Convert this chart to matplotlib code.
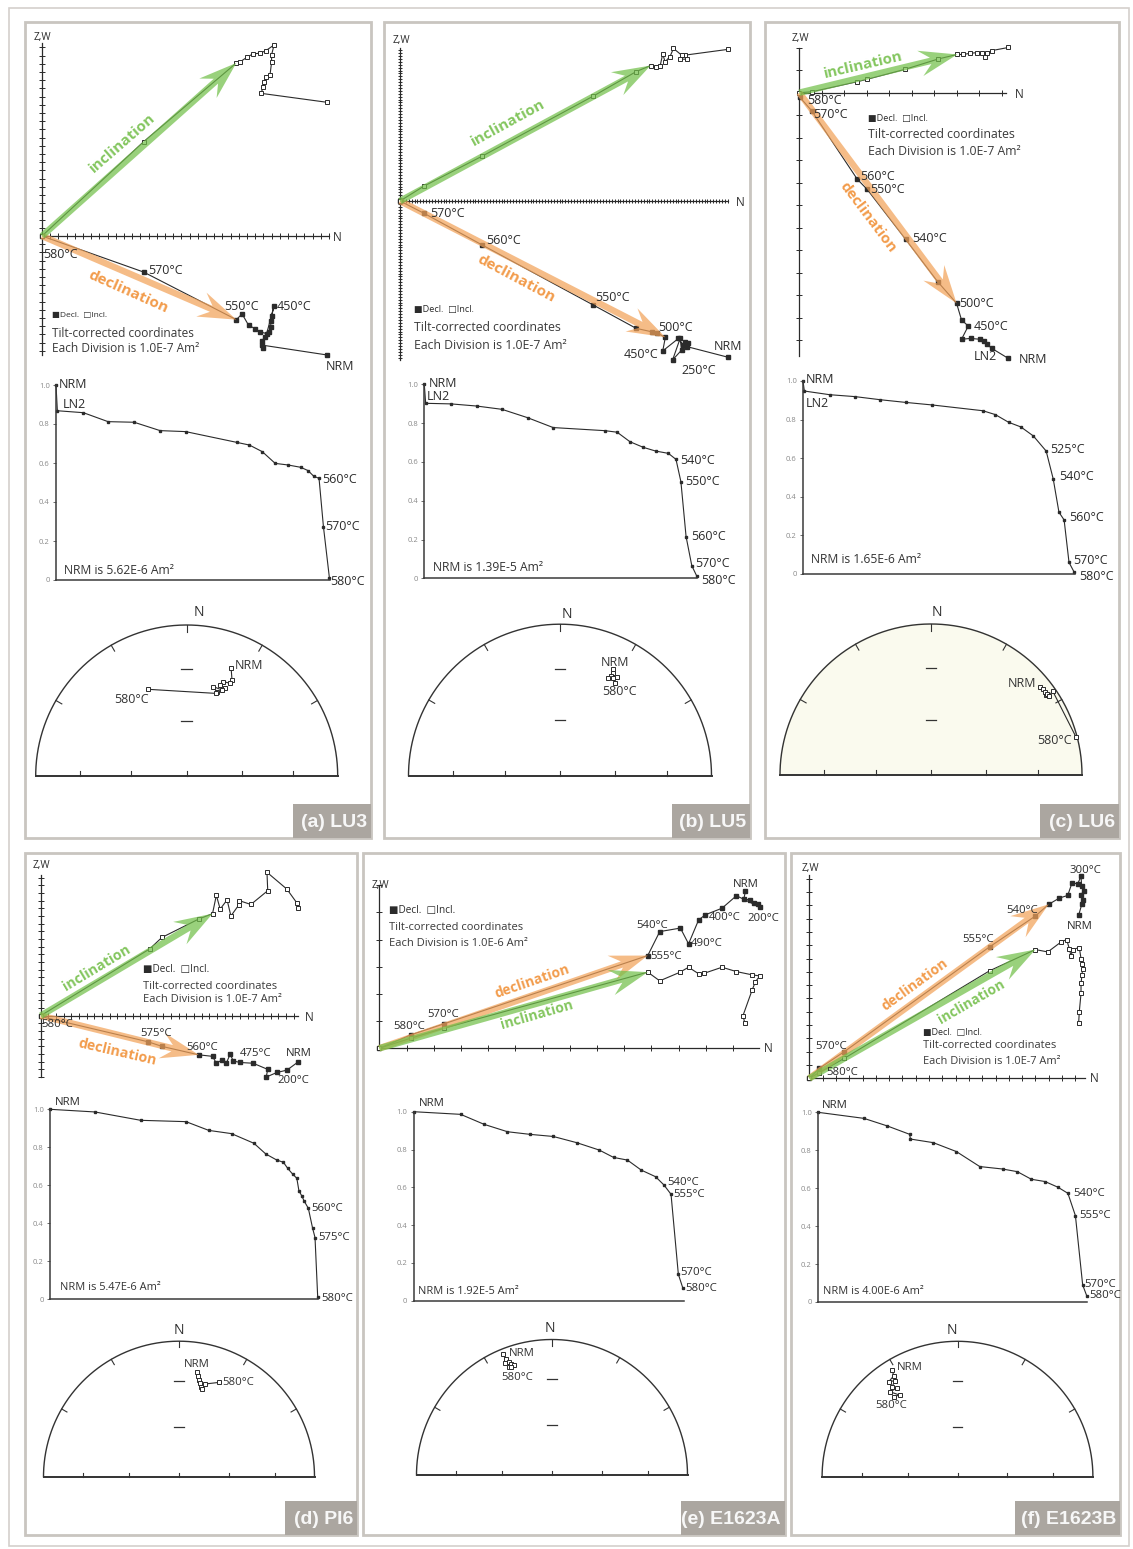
import numpy as np
import matplotlib
matplotlib.use("Agg")
import matplotlib.pyplot as plt
from matplotlib.patches import Polygon, Rectangle

plt.rcParams["font.family"] = ["Open Sans", "DejaVu Sans"]

# ---------------- data (Zijderveld values in axis divisions) ----------------
# (a) LU3
a_decl_n = [34.7, 26.8, 26.9, 26.8, 27.2, 27.7, 27.9, 27.9, 28.0, 28.3, 27.4, 26.6, 26.0, 25.2, 24.4, 23.7, 12.4, 0.0]
a_decl_up = [-14.5, -13.3, -13.7, -12.8, -12.3, -11.7, -11.1, -10.4, -9.8, -8.5, -11.9, -11.7, -11.3, -10.9, -9.5, -10.2, -4.4, 0.0]
a_incl_n = [34.8, 26.7, 27.0, 27.1, 27.3, 27.8, 28.0, 28.0, 28.3, 27.3, 26.6, 25.7, 25.0, 24.1, 23.7, 12.4, 0.0]
a_incl_up = [16.3, 17.4, 18.2, 18.8, 19.4, 19.6, 21.2, 22.1, 23.3, 22.6, 22.3, 22.2, 21.8, 21.2, 21.1, 11.5, 0.0]
a_step = [0.0, 0.005, 0.10, 0.19, 0.285, 0.38, 0.473, 0.659, 0.706, 0.753, 0.80, 0.846, 0.893, 0.92, 0.94, 0.96, 0.976, 0.998]
a_mag = [1.0, 0.868, 0.858, 0.812, 0.809, 0.766, 0.761, 0.706, 0.692, 0.658, 0.598, 0.590, 0.578, 0.561, 0.533, 0.521, 0.274, 0.009]
a_net_e = [0.294, 0.300, 0.287, 0.243, 0.221, 0.254, 0.232, 0.177, 0.199, 0.194, -0.254]
a_net_n = [0.717, 0.636, 0.614, 0.625, 0.603, 0.581, 0.570, 0.592, 0.558, 0.547, 0.574]

# (b) LU5
b_decl_n = [113.2, 98.9, 98.3, 97.1, 96.6, 94.0, 99.4, 97.7, 96.0, 90.6, 91.5, 88.7, 86.8, 81.4, 66.7, 28.4, 8.4, 0.0]
b_decl_up = [-53.9, -50.2, -48.5, -51.4, -47.4, -54.8, -48.9, -49.7, -47.4, -51.7, -47.0, -45.6, -45.1, -43.9, -35.9, -15.2, -4.3, 0.0]
b_incl_n = [113.2, 98.3, 98.9, 96.6, 97.1, 94.3, 93.1, 91.4, 90.6, 89.7, 88.3, 86.4, 81.4, 66.7, 28.4, 8.4, 0.0]
b_incl_up = [52.3, 50.3, 48.9, 48.9, 50.3, 52.6, 49.8, 48.0, 50.7, 46.6, 46.3, 46.7, 44.6, 36.2, 15.5, 5.2, 0.0]
b_step = [0.0, 0.005, 0.098, 0.192, 0.285, 0.379, 0.473, 0.663, 0.708, 0.755, 0.804, 0.849, 0.896, 0.924, 0.942, 0.961, 0.982, 1.0]
b_mag = [1.0, 0.902, 0.899, 0.888, 0.871, 0.828, 0.777, 0.761, 0.753, 0.704, 0.675, 0.656, 0.644, 0.613, 0.498, 0.215, 0.065, 0.012]
b_net_e = [0.347, 0.352, 0.334, 0.374, 0.314, 0.352, 0.365]
b_net_n = [0.701, 0.675, 0.657, 0.653, 0.648, 0.642, 0.609]

# (c) LU6
c_decl_n = [9.29, 8.55, 8.33, 8.21, 8.04, 7.61, 7.21, 7.51, 7.21, 6.99, 6.15, 4.73, 3.02, 2.58, 0.55, 0.03]
c_decl_up = [-11.81, -11.36, -11.17, -11.02, -10.96, -10.92, -10.96, -10.37, -10.1, -9.36, -8.4, -6.52, -4.30, -3.85, -0.8, -0.21]
c_incl_n = [9.29, 8.55, 8.33, 8.25, 8.1, 7.88, 7.59, 7.29, 7.02, 6.18, 4.70, 2.99, 2.58, 0.55, 0.0]
c_incl_up = [2.01, 1.87, 1.75, 1.6, 1.75, 1.78, 1.75, 1.70, 1.70, 1.50, 1.04, 0.59, 0.49, 0.04, 0.0]
c_step = [0.0, 0.005, 0.098, 0.192, 0.284, 0.378, 0.474, 0.661, 0.707, 0.756, 0.801, 0.847, 0.894, 0.920, 0.941, 0.960, 0.978, 0.996]
c_mag = [1.0, 0.948, 0.929, 0.919, 0.903, 0.889, 0.876, 0.846, 0.826, 0.786, 0.762, 0.715, 0.637, 0.492, 0.320, 0.280, 0.060, 0.012]
c_net_e = [0.721, 0.739, 0.761, 0.754, 0.770, 0.783, 0.805, 0.959]
c_net_n = [0.584, 0.567, 0.529, 0.551, 0.536, 0.523, 0.558, 0.254]

# (d) PI6
d_decl_n = [33.6, 32.1, 30.8, 29.4, 29.6, 27.7, 26.0, 25.1, 24.7, 24.2, 23.6, 22.9, 22.4, 20.6, 15.8, 14.0, 0.0]
d_decl_up = [-6.0, -7.1, -7.4, -8.0, -7.0, -6.2, -6.1, -5.9, -5.0, -6.2, -5.8, -6.2, -5.3, -5.1, -4.0, -3.4, -0.1]
d_incl_n = [33.6, 33.4, 32.1, 29.5, 29.6, 27.4, 25.9, 25.8, 24.8, 24.3, 23.4, 22.9, 22.4, 20.6, 15.8, 14.2, 0.0]
d_incl_up = [14.0, 14.7, 16.5, 18.7, 16.3, 14.5, 15.0, 14.4, 13.0, 15.1, 13.9, 15.7, 13.3, 12.6, 10.2, 8.7, 0.0]
d_step = [0.0, 0.168, 0.339, 0.508, 0.593, 0.678, 0.762, 0.806, 0.847, 0.872, 0.888, 0.907, 0.922, 0.930, 0.940, 0.949, 0.965, 0.981, 0.990, 1.0]
d_mag = [1.0, 0.986, 0.942, 0.935, 0.889, 0.872, 0.821, 0.765, 0.733, 0.721, 0.689, 0.658, 0.637, 0.570, 0.546, 0.518, 0.479, 0.374, 0.325, 0.011]
d_net_e = [0.135, 0.143, 0.150, 0.155, 0.162, 0.167, 0.192, 0.295]
d_net_n = [0.775, 0.743, 0.713, 0.689, 0.664, 0.645, 0.684, 0.696]

# (e) E1623A
e_decl_n = [13.46, 13.40, 13.64, 13.77, 13.91, 13.99, 13.13, 12.60, 11.99, 11.74, 11.37, 11.07, 10.31, 9.87, 2.38, 1.15, 0.0]
e_decl_up = [5.77, 5.48, 5.46, 5.36, 5.31, 5.19, 5.61, 5.15, 4.91, 4.72, 3.84, 4.42, 4.29, 3.41, 0.90, 0.49, 0.0]
e_incl_n = [13.44, 13.37, 13.71, 13.83, 13.99, 13.71, 13.13, 12.60, 11.95, 11.74, 11.37, 11.04, 10.31, 9.87, 2.38, 1.15, 0.0]
e_incl_up = [0.92, 1.20, 2.15, 2.45, 2.66, 2.70, 2.82, 2.98, 2.76, 2.74, 2.98, 2.79, 2.48, 2.80, 0.74, 0.37, 0.0]
e_step = [0.0, 0.174, 0.261, 0.347, 0.431, 0.516, 0.603, 0.686, 0.739, 0.790, 0.841, 0.894, 0.925, 0.951, 0.978, 0.995]
e_mag = [1.0, 0.986, 0.933, 0.894, 0.880, 0.869, 0.836, 0.797, 0.758, 0.744, 0.691, 0.656, 0.612, 0.563, 0.140, 0.065]
e_net_e = [-0.365, -0.339, -0.350, -0.321, -0.303, -0.284, -0.321, -0.303]
e_net_n = [0.891, 0.854, 0.824, 0.836, 0.819, 0.812, 0.799, 0.794]

# (f) E1623B
f_decl_n = [20.25, 20.5, 20.6, 20.43, 20.63, 20.48, 20.43, 20.18, 19.75, 19.43, 18.8, 18.0, 17.0, 13.55, 2.63, 0.75, 0.0]
f_decl_up = [12.25, 13.13, 13.43, 13.8, 14.08, 14.43, 15.18, 14.63, 14.68, 13.75, 13.55, 13.08, 12.2, 9.88, 2.0, 0.75, 0.0]
f_incl_n = [20.25, 20.3, 20.43, 20.43, 20.5, 20.55, 20.5, 20.43, 20.3, 19.8, 19.68, 19.55, 19.35, 18.93, 17.93, 17.0, 13.55, 2.63, 0.75, 0.0]
f_incl_up = [4.13, 5.0, 6.38, 7.13, 7.75, 8.25, 8.63, 9.0, 9.83, 9.68, 9.18, 9.75, 10.43, 10.25, 9.5, 9.68, 8.08, 1.5, 0.43, 0.0]
f_step = [0.0, 0.171, 0.258, 0.341, 0.344, 0.429, 0.515, 0.602, 0.687, 0.742, 0.794, 0.845, 0.893, 0.930, 0.958, 0.985, 1.0]
f_mag = [1.0, 0.968, 0.928, 0.884, 0.859, 0.840, 0.793, 0.714, 0.701, 0.687, 0.647, 0.635, 0.605, 0.573, 0.455, 0.090, 0.033]
f_net_e = [-0.482, -0.471, -0.508, -0.464, -0.482, -0.446, -0.501, -0.428, -0.471]
f_net_n = [0.788, 0.744, 0.702, 0.709, 0.665, 0.653, 0.628, 0.603, 0.591]

# ---------------- layout (pixels) ----------------
PANELS = [
    dict(title="(a) LU3", frame=(25, 22, 371, 838), box=293,
         origin=(42, 236), d=8.2, xext=35, yext=(-14.5, 23.5), tick=4.0,
         decl=(a_decl_n, a_decl_up), incl=(a_incl_n, a_incl_up), arr=(14, 15),
         zlabels=[(9, "450°C", 3, 1, "left"), (15, "550°C", -12, -13, "left"), (16, "570°C", 5, -2, "left"),
                  (17, "580°C", 1, 19, "left"), (0, "NRM", -1, 12, "left")],
         zw=(42, 37), nlab=(333, 237), legend=(52, 315, 333, 348), legfs=(6.0, 8.6),
         inc_lab=(122, 143, 41), dec_lab=(128, 292, -24), arrfs=11,
         demag=(56, 385, 330, 580), mag=(a_step, a_mag),
         dlabels=[(0, "NRM", 3, 0), (1, "LN2", 5, -6), (15, "560°C", 3, 1), (16, "570°C", 2, 0), (17, "580°C", 1, 3)],
         nrm=(64, 570, "NRM is 5.62E-6 Am²"),
         net=(186.7, 776, 151), netN=(199, 612), pts=(a_net_e, a_net_n),
         nlabels=[(0, "NRM", 4, -2, "left"), (-1, "580°C", 0, 10, "right")], fs=9.0, fill=None),
    dict(title="(b) LU5", frame=(384, 22, 750, 838), box=672,
         origin=(400, 201), d=2.9, xext=113, yext=(-54.8, 52.6), tick=3.2,
         decl=(b_decl_n, b_decl_up), incl=(b_incl_n, b_incl_up), arr=(11, 10),
         zlabels=[(16, "570°C", 6, 0, "left"), (15, "560°C", 4, -5, "left"), (14, "550°C", 2, -8, "left"),
                  (11, "500°C", 1, -6, "left"), (9, "450°C", -4, 4, "right"), (5, "250°C", 9, 11, "left"),
                  (0, "NRM", 0, -11, "center")],
         zw=(401, 40), nlab=(736, 202), legend=(414, 309, 327, 345), legfs=(6.6, 8.8),
         inc_lab=(508, 123, 28.7), dec_lab=(516, 279, -28), arrfs=11,
         demag=(424.3, 384.3, 696.7, 578.3), mag=(b_step, b_mag),
         dlabels=[(0, "NRM", 4, -1), (1, "LN2", 1, -7), (13, "540°C", 4, 1), (14, "550°C", 4, 0),
                  (15, "560°C", 5, 0), (16, "570°C", 3, -2), (17, "580°C", 4, 5)],
         nrm=(433, 567, "NRM is 1.39E-5 Am²"),
         net=(560, 775.7, 151.5), netN=(567, 614), pts=(b_net_e, b_net_n),
         nlabels=[(0, "NRM", 2, -7, "center"), (-1, "580°C", 4, 8, "center")], fs=9.0, fill=None),
    dict(title="(c) LU6", frame=(765, 22, 1119, 838), box=1040,
         origin=(799.3, 92.7), d=22.5, xext=9.2, yext=(-11.7, 2.0), tick=4.5,
         decl=(c_decl_n, c_decl_up), incl=(c_incl_n, c_incl_up), arr=(8, 9),
         zlabels=[(15, "580°C", 7, 3, "left"), (14, "570°C", 2, 4, "left"), (13, "560°C", 3, -3, "left"),
                  (12, "550°C", 3, 0, "left"), (11, "540°C", 6, -1, "left"), (9, "500°C", 3, 0, "left"),
                  (7, "450°C", 5, 0, "left"), (1, "LN2", -6, 8, "center"), (0, "NRM", 10, 1, "left")],
         zw=(800, 38), nlab=(1015, 94), legend=(868, 118, 134, 151), legfs=(6.6, 8.8),
         inc_lab=(863, 65, 13), dec_lab=(868, 217, -53), arrfs=10.8,
         demag=(803, 381, 1075, 574), mag=(c_step, c_mag),
         dlabels=[(0, "NRM", 3, -1), (1, "LN2", 1, 12), (12, "525°C", 4, -2), (13, "540°C", 6, -3),
                  (15, "560°C", 5, -2), (16, "570°C", 4, -2), (17, "580°C", 5, 5)],
         nrm=(811, 559, "NRM is 1.65E-6 Am²"),
         net=(931, 775, 151), netN=(937, 612), pts=(c_net_e, c_net_n),
         nlabels=[(0, "NRM", -4, -3, "right"), (-1, "580°C", -4, 4, "right")], fs=9.0, fill="#fafaee"),
    dict(title="(d) PI6", frame=(25, 853, 357, 1535), box=285,
         origin=(40.7, 1015.7), d=7.67, xext=33.6, yext=(-8.0, 18.3), tick=3.8,
         decl=(d_decl_n, d_decl_up), incl=(d_incl_n, d_incl_up), arr=(12, 13),
         zlabels=[(0, "NRM", 0, -8, "center"), (3, "200°C", 11, 3, "left"), (7, "475°C", 7, -7, "left"),
                  (13, "560°C", -12, -7, "left"), (15, "575°C", -8, -8, "left"), (16, "580°C", 1, 8, "left")],
         zw=(41, 865), nlab=(305, 1017), legend=(143, 969, 986, 999), legfs=(7.2, 8.0),
         inc_lab=(97, 968, 31), dec_lab=(117, 1052, -13), arrfs=10.3,
         demag=(50, 1109.3, 317.7, 1299.3), mag=(d_step, d_mag),
         dlabels=[(0, "NRM", 5, -7), (16, "560°C", 3, 0), (18, "575°C", 3, 0), (19, "580°C", 4, 1)],
         nrm=(60, 1288, "NRM is 5.47E-6 Am²"),
         net=(179, 1476.7, 135.5), netN=(179, 1330), pts=(d_net_e, d_net_n),
         nlabels=[(0, "NRM", 0, -7, "center"), (-1, "580°C", 3, 0, "left")], fs=8.2, fill=None),
    dict(title="(e) E1623A", frame=(363, 853, 785, 1535), box=681,
         origin=(379.3, 1048.3), d=27.2, xext=13.95, yext=(0.0, 6.0), tick=4.5,
         decl=(e_decl_n, e_decl_up), incl=(e_incl_n, e_incl_up), arr=(13, 13),
         zlabels=[(0, "NRM", 0, -7, "center"), (5, "200°C", 3, 11, "center"), (8, "400°C", 3, 3, "left"),
                  (10, "490°C", 2, 0, "left"), (12, "540°C", -23, -6, "left"), (13, "555°C", 3, 1, "left"),
                  (14, "570°C", -17, -9, "left"), (15, "580°C", -17, -8, "left")],
         zw=(380, 885), nlab=(764, 1049), legend=(389, 910, 927, 943), legfs=(7.2, 8.0),
         inc_lab=(537, 1015, 16), dec_lab=(532, 981, 19), arrfs=10.0,
         demag=(413.5, 1111.7, 684.3, 1300.7), mag=(e_step, e_mag),
         dlabels=[(0, "NRM", 5, -8), (12, "540°C", 3, -3), (13, "555°C", 2, 0), (14, "570°C", 2, -2), (15, "580°C", 2, 0)],
         nrm=(418, 1292, "NRM is 1.92E-5 Am²"),
         net=(552, 1475, 135.5), netN=(550, 1329), pts=(e_net_e, e_net_n),
         nlabels=[(0, "NRM", 6, -1, "left"), (-1, "580°C", 6, 10, "center")], fs=8.2, fill=None),
    dict(title="(f) E1623B", frame=(791, 853, 1120, 1535), box=1015,
         origin=(809.3, 1078.3), d=13.3, xext=20.7, yext=(0.0, 15.25), tick=3.8,
         decl=(f_decl_n, f_decl_up), incl=(f_incl_n, f_incl_up), arr=(15, 11),
         zlabels=[(0, "NRM", 1, 11, "center"), (6, "300°C", 4, -6, "center"), (12, "540°C", -29, -6, "left"),
                  (13, "555°C", -27, -7, "left"), (14, "570°C", -29, -5, "left"), (15, "580°C", 7, 4, "left")],
         zw=(810, 868), nlab=(1090, 1079), legend=(923, 1033, 1046, 1061), legfs=(6.5, 7.9),
         inc_lab=(971, 1002, 30), dec_lab=(915, 985, 36), arrfs=10.0,
         demag=(818, 1112.3, 1086.7, 1302), mag=(f_step, f_mag),
         dlabels=[(0, "NRM", 4, -7), (13, "540°C", 5, 0), (14, "555°C", 4, 0), (15, "570°C", 2, 0), (16, "580°C", 3, 0)],
         nrm=(823, 1292, "NRM is 4.00E-6 Am²"),
         net=(957.5, 1476.7, 135.4), netN=(952, 1330), pts=(f_net_e, f_net_n),
         nlabels=[(0, "NRM", 5, -3, "left"), (-1, "580°C", -3, 9, "center")], fs=8.2, fill=None),
]

W, H = 1133, 1549
INK = "#2b2b2b"
GREEN, ORANGE = "#72c04a", "#f2a259"
GREEN_TXT, ORANGE_TXT = "#84c65f", "#f29c4c"
FRAME = "#c9c5c0"

fig = plt.figure(figsize=(W / 100, H / 100), dpi=100)
bg = fig.add_axes([0, 0, 1, 1])
bg.set_xlim(0, W)
bg.set_ylim(H, 0)
bg.axis("off")
bg.add_patch(Rectangle((9, 8), 1120, 1538, fill=False, ec="#d4d0cc", lw=1.2))


def px_axes(x0, y0, x1, y1):
    ax = fig.add_axes([x0 / W, 1 - y1 / H, (x1 - x0) / W, (y1 - y0) / H])
    ax.patch.set_alpha(0)
    return ax


def notched_arrow(ax, end, d, color):
    # swept-back arrow from the origin to a data point; sizes given in pixels
    e = np.array(end, dtype=float)
    L = np.hypot(*e)
    u = e / L
    p = np.array([-u[1], u[0]])
    w, hw, hl = 6.5 / d, 26 / d, 38 / d
    pts = [p * w / 2, u * (L - hl * 0.72) + p * w / 2, u * (L - hl) + p * hw / 2, u * L,
           u * (L - hl) - p * hw / 2, u * (L - hl * 0.72) - p * w / 2, -p * w / 2]
    ax.add_patch(Polygon(pts, closed=True, fc=color, ec="none", alpha=0.72, zorder=5))


def draw_zij(P):
    x0, y0, x1, y1 = P["frame"]
    ox, oy = P["origin"]
    d = P["d"]
    ax = px_axes(x0, y0, x1, y1)
    ax.set_xlim((x0 - ox) / d, (x1 - ox) / d)
    ax.set_ylim((oy - y1) / d, (oy - y0) / d)
    ax.axis("off")
    xmax = P["xext"]
    ymin, ymax = P["yext"]
    ax.plot([0, xmax], [0, 0], color=INK, lw=0.9)
    ax.plot([0, 0], [ymin, ymax], color=INK, lw=0.9)
    xt = np.arange(1, int(xmax) + 1)
    yt = [v for v in range(int(np.ceil(ymin)), int(np.floor(ymax)) + 1) if v != 0]
    ax.plot(xt, np.zeros(len(xt)), ls="none", marker="|", ms=P["tick"], mew=0.7, color=INK)
    ax.plot(np.zeros(len(yt)), yt, ls="none", marker="_", ms=P["tick"], mew=0.7, color=INK)

    dn, du = P["decl"]
    inn, iu = P["incl"]
    ax.plot(dn, du, "-", color=INK, lw=0.8, marker="s", ms=2.8, mfc=INK, mec=INK, zorder=3)
    ax.plot(inn, iu, "-", color=INK, lw=0.8, marker="s", ms=3.0, mfc="white", mec=INK, mew=0.7, zorder=3)
    ii, di = P["arr"]
    notched_arrow(ax, (dn[di], du[di]), d, ORANGE)
    notched_arrow(ax, (inn[ii], iu[ii]), d, GREEN)

    for idx, s, dx, dy, ha in P["zlabels"]:
        ax.annotate(s, (dn[idx], du[idx]), xytext=(dx, -dy), textcoords="offset pixels",
                    ha=ha, va="center", fontsize=P["fs"], color=INK, annotation_clip=False, zorder=6)

    bg.text(*P["zw"], "Z,W", ha="center", va="center", fontsize=7.2, color=INK)
    bg.text(*P["nlab"], "N", ha="left", va="center", fontsize=8.5, color=INK)
    lx, ly1, ly2, ly3 = P["legend"]
    sfs, lfs = P["legfs"]
    bg.text(lx, ly1, "■Decl.  □Incl.", ha="left", va="center", fontsize=sfs, color=INK)
    bg.text(lx, ly2, "Tilt-corrected coordinates", ha="left", va="center", fontsize=lfs, color="#3a3a3a")
    unit = "1.0E-6" if P["title"].endswith("E1623A") else "1.0E-7"
    bg.text(lx, ly3, "Each Division is %s Am²" % unit, ha="left", va="center", fontsize=lfs, color="#3a3a3a")

    tx, ty, rot = P["inc_lab"]
    bg.text(tx, ty, "inclination", rotation=rot, rotation_mode="anchor", ha="center", va="center",
            fontsize=P["arrfs"], fontweight="bold", color=GREEN_TXT)
    tx, ty, rot = P["dec_lab"]
    bg.text(tx, ty, "declination", rotation=rot, rotation_mode="anchor", ha="center", va="center",
            fontsize=P["arrfs"], fontweight="bold", color=ORANGE_TXT)


def draw_demag(P):
    x0, y0, x1, y1 = P["demag"]
    ax = px_axes(x0, y0, x1, y1)
    ax.set_xlim(0, 1)
    ax.set_ylim(0, 1)
    for s in ("top", "right"):
        ax.spines[s].set_visible(False)
    for s in ("left", "bottom"):
        ax.spines[s].set_color("#3a3a3a")
        ax.spines[s].set_linewidth(1.1)
    ax.set_xticks([])
    ax.set_yticks(np.arange(0, 1.01, 0.2))
    ax.set_yticklabels(["0", "0.2", "0.4", "0.6", "0.8", "1.0"])
    ax.tick_params(axis="y", length=2.5, width=0.6, pad=2, labelsize=5.5, labelcolor="#8a8a8a", color="#555555")
    steps, mags = P["mag"]
    ax.plot(steps, mags, "-s", color=INK, lw=0.8, ms=2.0, clip_on=False)
    for idx, s, dx, dy in P["dlabels"]:
        ax.annotate(s, (steps[idx], mags[idx]), xytext=(dx, -dy), textcoords="offset pixels",
                    ha="left", va="center", fontsize=P["fs"], color=INK, annotation_clip=False)
    nx, ny, s = P["nrm"]
    bg.text(nx, ny, s, ha="left", va="center", fontsize=P["fs"] - 0.3, color="#333333")


def draw_net(P):
    cx, cy, r = P["net"]
    pad = 6
    ax = px_axes(cx - r - pad, cy - r - pad, cx + r + pad, cy + pad)
    e = pad / r
    ax.set_xlim(-1 - e, 1 + e)
    ax.set_ylim(-e, 1 + e)
    ax.axis("off")
    th = np.linspace(0, np.pi, 240)
    if P["fill"]:
        ax.fill(np.cos(th), np.sin(th), color=P["fill"], zorder=0)
    ax.plot(np.cos(th), np.sin(th), color="#333333", lw=1.0)
    ax.plot([-1, 1], [0, 0], color="#333333", lw=1.4)
    for a in np.radians([30, 60, 90, 120, 150]):
        ax.plot([np.cos(a), 0.955 * np.cos(a)], [np.sin(a), 0.955 * np.sin(a)], color="#333333", lw=0.8)
    # equal-area radii for 30 and 60 degree dip
    rr = [np.sqrt(2) * np.sin(np.radians((90 - i) / 2)) for i in (30, 60)]
    for x in (-rr[0], -rr[1], 0.0, rr[1], rr[0]):
        ax.plot([x, x], [0, 0.03], color="#333333", lw=0.8)
    for y in rr:
        ax.plot([-0.035, 0.035], [y, y], color="#333333", lw=0.9)
    xs, ys = P["pts"]
    ax.plot(xs, ys, "-", color=INK, lw=0.8, marker="s", ms=3.2, mfc="white", mec=INK, mew=0.7)
    for idx, s, dx, dy, ha in P["nlabels"]:
        ax.annotate(s, (xs[idx], ys[idx]), xytext=(dx, -dy), textcoords="offset pixels",
                    ha=ha, va="center", fontsize=P["fs"], color="#333333", annotation_clip=False)
    bg.text(*P["netN"], "N", ha="center", va="center", fontsize=10, color=INK)


for P in PANELS:
    x0, y0, x1, y1 = P["frame"]
    bg.add_patch(Rectangle((x0, y0), x1 - x0, y1 - y0, fill=False, ec=FRAME, lw=2.0))
    bg.add_patch(Rectangle((P["box"], y1 - 34), x1 - P["box"], 34, fc="#aba6a0", ec="none"))
    bg.text(x1 - 4, y1 - 16, P["title"], ha="right", va="center", color="#f7f7f7",
            fontsize=14, fontweight="bold", family="Liberation Sans")
    draw_zij(P)
    draw_demag(P)
    draw_net(P)

fig.savefig("out.png", dpi=100)
